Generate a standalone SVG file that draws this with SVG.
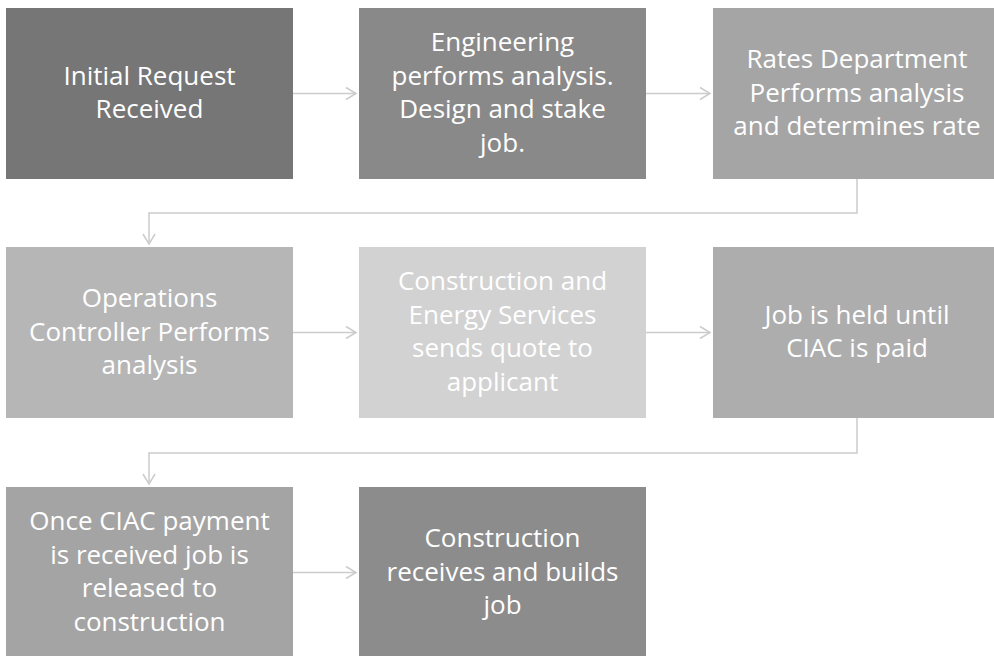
<svg xmlns="http://www.w3.org/2000/svg" width="994" height="656" viewBox="0 0 994 656">
<defs>
<marker id="arr" markerUnits="userSpaceOnUse" markerWidth="14" markerHeight="16" viewBox="-12 -8 14 16" refX="0" refY="0" orient="auto">
<path d="M -10 -6 L 0 0 L -10 6" fill="none" stroke="#cccccc" stroke-width="1.5"/>
</marker>
<style>
text{font-family:"Open Sans","Noto Sans","Liberation Sans",sans-serif;font-size:26px;fill:#ffffff;text-anchor:middle}
.c{fill:none;stroke:#cccccc;stroke-width:1.5;marker-end:url(#arr)}
</style>
</defs>
<rect width="994" height="656" fill="#ffffff"/>
<g id="connectors">
<path class="c" d="M 293 93.5 H 356"/>
<path class="c" d="M 646 93.5 H 710"/>
<path class="c" d="M 857 179 V 213 H 149 V 244"/>
<path class="c" d="M 293 332.5 H 356"/>
<path class="c" d="M 646 332.5 H 710"/>
<path class="c" d="M 857 418 V 453 H 149 V 484"/>
<path class="c" d="M 293 572.5 H 356"/>
</g>
<g id="n1"><rect x="6" y="8" width="287" height="171" fill="#767676"/>
<text x="149.5"><tspan x="149.5" y="84.6">Initial Request</tspan><tspan x="149.5" y="118.3">Received</tspan></text></g>
<g id="n2"><rect x="359" y="8" width="287" height="171" fill="#898989"/>
<text><tspan x="502.5" y="51">Engineering</tspan><tspan x="502.5" y="84.6">performs analysis.</tspan><tspan x="502.5" y="118.3">Design and stake</tspan><tspan x="502.5" y="152">job.</tspan></text></g>
<g id="n3"><rect x="713" y="8" width="288" height="171" fill="#a5a5a5"/>
<text><tspan x="857" y="67.8">Rates Department</tspan><tspan x="857" y="101.5">Performs analysis</tspan><tspan x="857" y="135.2">and determines rate</tspan></text></g>
<g id="n4"><rect x="6" y="247" width="287" height="171" fill="#b6b6b6"/>
<text><tspan x="149.5" y="306.8">Operations</tspan><tspan x="149.5" y="340.5">Controller Performs</tspan><tspan x="149.5" y="374.2">analysis</tspan></text></g>
<g id="n5"><rect x="359" y="247" width="287" height="171" fill="#d2d2d2"/>
<text><tspan x="502.5" y="290">Construction and</tspan><tspan x="502.5" y="323.6">Energy Services</tspan><tspan x="502.5" y="357.3">sends quote to</tspan><tspan x="502.5" y="391">applicant</tspan></text></g>
<g id="n6"><rect x="713" y="247" width="288" height="171" fill="#adadad"/>
<text><tspan x="857" y="323.6">Job is held until</tspan><tspan x="857" y="357.3">CIAC is paid</tspan></text></g>
<g id="n7"><rect x="6" y="487" width="287" height="171" fill="#a4a4a4"/>
<text><tspan x="149.5" y="530">Once CIAC payment</tspan><tspan x="149.5" y="563.6">is received job is</tspan><tspan x="149.5" y="597.3">released to</tspan><tspan x="149.5" y="631">construction</tspan></text></g>
<g id="n8"><rect x="359" y="487" width="287" height="171" fill="#8c8c8c"/>
<text><tspan x="502.5" y="546.8">Construction</tspan><tspan x="502.5" y="580.5">receives and builds</tspan><tspan x="502.5" y="614.2">job</tspan></text></g>
</svg>
